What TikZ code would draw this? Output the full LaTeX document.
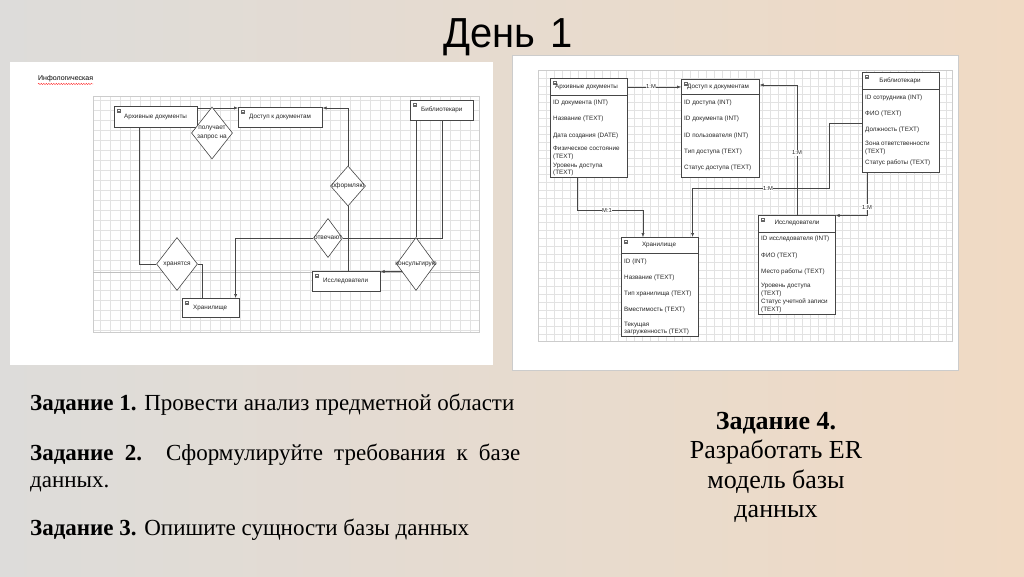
\documentclass[tikz,border=0pt]{standalone}
\usepackage{fontspec}
\setmainfont{Liberation Serif}
\newfontfamily\dsans{Liberation Sans}
\usetikzlibrary{arrows.meta,calc,shapes.geometric,decorations.pathmorphing}
\pgfdeclarelayer{bgl}
\pgfdeclarelayer{edges}
\pgfsetlayers{bgl,edges,main}
\definecolor{bgL}{RGB}{221,220,218}
\definecolor{bgR}{RGB}{240,218,196}
\definecolor{gridc}{RGB}{226,226,226}
\definecolor{edgec}{RGB}{70,70,70}
\begin{document}
\begin{tikzpicture}[x=1pt,y=-1pt,
  ebox/.style={draw=edgec,line width=0.6pt,fill=white,inner sep=0pt},
  rel/.style={diamond,draw=edgec,line width=0.6pt,fill=white,inner sep=0pt},
  conn/.style={draw=edgec,line width=0.6pt},
  arr/.style={conn,-{Latex[length=4pt,width=3.2pt]}},
  lt/.style={font=\dsans\fontsize{6.3}{7.4}\selectfont,inner sep=0pt,align=left,text=black!85},
  dl/.style={font=\dsans\fontsize{6.5}{7.6}\selectfont,inner sep=0pt,align=center,text=black!85},
  lab/.style={font=\dsans\fontsize{5.8}{6}\selectfont,fill=white,inner sep=0.6pt,text=black!85},
  icon/.style={draw=black!60,line width=0.4pt,fill=white},
  gl/.style={draw=gridc,line width=0.35pt},
  body/.style={font=\fontsize{23}{27}\selectfont,inner sep=0pt,anchor=base west},
  rbody/.style={font=\fontsize{26}{29}\selectfont,inner sep=0pt,anchor=base}
]
\useasboundingbox (0,0) rectangle (1024,576);
\begin{pgfonlayer}{bgl}
\shade[left color=bgL,right color=bgR] (0,0) rectangle (1024,576);
% left panel
\fill[white] (10,62) rectangle (493,365);
\foreach \x in {100,110,...,470} \draw[gl] (\x,96) -- (\x,332);
\foreach \y in {100,110,...,330} \draw[gl] (93,\y) -- (479,\y);
\draw[black!20,line width=0.5pt] (93,96) rectangle (479,332);
\draw[black!25,line width=0.4pt] (93,272) -- (479,272);
% right panel
\fill[white] (512,55) rectangle (958,370);
\draw[black!20,line width=0.5pt] (512,55) rectangle (958,370);
\foreach \x in {546,554,...,946} \draw[gl] (\x,70) -- (\x,341);
\foreach \y in {78,86,...,334} \draw[gl] (538,\y) -- (952,\y);
\draw[black!20,line width=0.5pt] (538,70) rectangle (952,341);
\end{pgfonlayer}

% title
\node[font=\dsans\fontsize{42}{46}\selectfont,inner sep=0pt,anchor=base] (title) at (508,47) {\scalebox{0.95}[1]{День\hspace{0.38em}1}};

% ---------- left diagram ----------
\node[font=\dsans\fontsize{7}{8}\selectfont,inner sep=0pt,anchor=west] (info) at (38,79) {Инфологическая};
\draw[red!80,line width=0.4pt,decorate,decoration={snake,amplitude=0.7pt,segment length=2.5pt}] ($(info.south west)+(0,1.5)$) -- ($(info.south east)+(0,1.5)$);

\node[ebox,minimum width=83pt,minimum height=21pt,anchor=north west] (arch) at (114,106) {};
\node[ebox,minimum width=84pt,minimum height=20pt,anchor=north west] (dost) at (238,107) {};
\node[ebox,minimum width=63pt,minimum height=20pt,anchor=north west] (bibl) at (410,100) {};
\node[ebox,minimum width=68pt,minimum height=20pt,anchor=north west] (issl) at (312,271) {};
\node[ebox,minimum width=57pt,minimum height=19pt,anchor=north west] (khr) at (182,298) {};

\node[rel,minimum width=41pt,minimum height=52pt] (poluch) at (212,133) {};
\node[rel,minimum width=41pt,minimum height=53pt] (hran) at (177,264) {};
\node[rel,minimum width=35pt,minimum height=40pt] (oform) at (348,186) {};
\node[rel,minimum width=29pt,minimum height=39pt] (otv) at (328,238) {};
\node[rel,minimum width=39pt,minimum height=53pt] (kons) at (416,264) {};

\node[lt,anchor=west] at ($(arch.west)+(10,0)$) {Архивные документы};
\node[lt,anchor=west] at ($(dost.west)+(11,0)$) {Доступ к документам};
\node[lt,anchor=west] at ($(bibl.west)+(11,0)$) {Библиотекари};
\node[lt,anchor=west] at ($(issl.west)+(11,0)$) {Исследователи};
\node[lt,anchor=west] at ($(khr.west)+(11,0)$) {Хранилище};
\foreach \b in {arch,dost,bibl,issl,khr}{
  \draw[icon] ($(\b.north west)+(3,3)$) rectangle ++(3.5,3.5);
  \draw[black!60,line width=0.3pt] ($(\b.north west)+(3.7,4.75)$) -- ++(2.1,0);
}

\node[dl] at (poluch.center) {получает\\[1pt]запрос на};
\node[dl] at (hran.center) {хранятся};
\node[dl] at (oform.center) {оформляю};
\node[dl] at (otv.center) {отвечают};
\node[dl] at (kons.center) {консультирую};

\begin{pgfonlayer}{edges}
\draw[arr] ($(arch.north east)+(0,2)$) -- ($(dost.north west)+(0,1)$);
\draw[conn] ($(arch.south west)+(25,0)$) |- (hran.west);
\draw[conn] (hran.east) -| ($(khr.north west)+(20,0)$);
\draw[arr] (otv.west) -| ($(khr.north east)+(-4,0)$);
\draw[conn] (otv.east) -| ($(bibl.south west)+(32,0)$);
\draw[arr] (oform.north) |- ($(dost.north east)+(0,1)$);
\draw[conn] (oform.south) -- (oform.south |- issl.north);
\draw[conn] ($(bibl.south west)+(6,0)$) -- (kons.north);
\coordinate (k1) at ($(issl.north east)+(0,0.5)$);
\draw[arr] (kons.center |- k1) -- (k1);
\end{pgfonlayer}

% ---------- right diagram (ER) ----------
\node[ebox,minimum width=77pt,minimum height=99pt,anchor=north west] (ra) at (550,78) {};
\node[ebox,minimum width=78pt,minimum height=98pt,anchor=north west] (rd) at (681,79) {};
\node[ebox,minimum width=77pt,minimum height=100pt,anchor=north west] (rb) at (862,72) {};
\node[ebox,minimum width=77pt,minimum height=99pt,anchor=north west] (ri) at (758,215) {};
\node[ebox,minimum width=77pt,minimum height=99pt,anchor=north west] (rk) at (621,237) {};

\draw[conn] ($(ra.north west)+(0,17)$) -- ($(ra.north east)+(0,17)$);
\draw[conn] ($(rd.north west)+(0,15)$) -- ($(rd.north east)+(0,15)$);
\draw[conn] ($(rb.north west)+(0,17)$) -- ($(rb.north east)+(0,17)$);
\draw[conn] ($(ri.north west)+(0,17)$) -- ($(ri.north east)+(0,17)$);
\draw[conn] ($(rk.north west)+(0,16)$) -- ($(rk.north east)+(0,16)$);
\foreach \b in {ra,rd,rb,ri,rk}{
  \draw[icon] ($(\b.north west)+(3,3)$) rectangle ++(3.5,3.5);
  \draw[black!60,line width=0.3pt] ($(\b.north west)+(3.7,4.75)$) -- ++(2.1,0);
}

\node[lt,anchor=west] at (555,87) {Архивные документы};
\node[lt,anchor=west] at (687,87) {Доступ к документам};
\node[lt] at (900,81) {Библиотекари};
\node[lt] at (797,223) {Исследователи};
\node[lt] at (659,245) {Хранилище};

% ra rows
\node[lt,anchor=west] at (553,103) {ID документа (INT)};
\node[lt,anchor=west] at (553,119) {Название (TEXT)};
\node[lt,anchor=west] at (553,136) {Дата создания (DATE)};
\node[lt,anchor=west] at (553,153) {Физическое состояние\\(TEXT)};
\node[lt,anchor=west] at (553,169.5) {Уровень доступа\\(TEXT)};
% rd rows
\node[lt,anchor=west] at (684,103) {ID доступа (INT)};
\node[lt,anchor=west] at (684,119) {ID документа (INT)};
\node[lt,anchor=west] at (684,136) {ID пользователя (INT)};
\node[lt,anchor=west] at (684,152) {Тип доступа (TEXT)};
\node[lt,anchor=west] at (684,168) {Статус доступа (TEXT)};
% rb rows
\node[lt,anchor=west] at (865,98) {ID сотрудника (INT)};
\node[lt,anchor=west] at (865,114) {ФИО (TEXT)};
\node[lt,anchor=west] at (865,130) {Должность (TEXT)};
\node[lt,anchor=west] at (865,148) {Зона ответственности\\(TEXT)};
\node[lt,anchor=west] at (865,163) {Статус работы (TEXT)};
% ri rows
\node[lt,anchor=west] at (761,239) {ID исследователя (INT)};
\node[lt,anchor=west] at (761,256) {ФИО (TEXT)};
\node[lt,anchor=west] at (761,272) {Место работы (TEXT)};
\node[lt,anchor=west] at (761,290) {Уровень доступа\\(TEXT)};
\node[lt,anchor=west] at (761,306) {Статус учетной записи\\(TEXT)};
% rk rows
\node[lt,anchor=west] at (624,262) {ID (INT)};
\node[lt,anchor=west] at (624,278) {Название (TEXT)};
\node[lt,anchor=west] at (624,294) {Тип хранилища (TEXT)};
\node[lt,anchor=west] at (624,310) {Вместимость (TEXT)};
\node[lt,anchor=west] at (624,328.5) {Текущая\\загруженность (TEXT)};

\begin{pgfonlayer}{edges}
\coordinate (raH) at ($(ra.north west)+(39,17)$);
\coordinate (rdA) at ($(rd.north west)+(0,8)$);
\draw[arr] (raH) |- (rdA);
\coordinate (rdB) at ($(rd.north east)+(0,6)$);
\draw[arr] (ri.north) |- (rdB);
\draw[arr] ($(rb.north west)+(0,51)$) -- ++(-33,0) -- ++(0,65) -| ($(rk.north east)+(-6,0)$);
\coordinate (riA) at ($(ri.north east)+(0,0.5)$);
\draw[arr] ($(rb.south west)+(5,0)$) |- (riA);
\draw[arr] ($(ra.south west)+(27,0)$) -- ++(0,33) -| ($(rk.north west)+(22,0)$);
\end{pgfonlayer}
\node[lab] at (651,87) {1:M};
\node[lab] at (797,153) {1:M};
\node[lab] at (768,188) {1:M};
\node[lab] at (867,207) {1:M};
\node[lab] at (607,210) {M:1};

% ---------- text ----------
\node[body] (t1) at (30,410) {\textbf{Задание 1.} Провести анализ предметной области};
\node[body] (t2a) at (30,460) {\makebox[490pt][s]{\textbf{Задание 2.} Сформулируйте требования к базе}};
\node[body] (t2b) at (30,487) {данных.};
\node[body] (t3) at (30,535) {\textbf{Задание 3.} Опишите сущности базы данных};
\node[rbody] (t4a) at (776,429) {\textbf{Задание 4.}};
\node[rbody] (t4b) at (776,458) {Разработать ER};
\node[rbody] (t4c) at (776,488) {модель базы};
\node[rbody] (t4d) at (776,517) {данных};
\end{tikzpicture}
\end{document}
